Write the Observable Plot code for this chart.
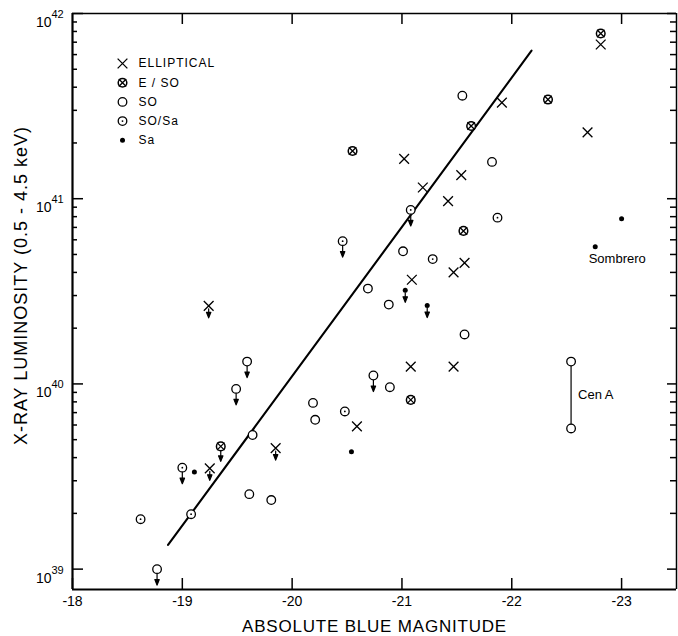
<!DOCTYPE html>
<html>
<head>
<meta charset="utf-8">
<script src="https://cdn.jsdelivr.net/npm/d3@7"></script>
<script src="https://cdn.jsdelivr.net/npm/@observablehq/plot@0.6"></script>
<style>
  html, body { margin: 0; padding: 0; background: #fff; overflow: hidden; }
</style>
</head>
<body>
<div id="chart"></div>
<script>
// ---------- data (absolute blue magnitude, X-ray luminosity erg/s) ----------
const ellMag   = [-21.91, -21.02, -21.54, -21.19, -21.42, -21.57, -21.47, -21.09, -21.08, -21.47, -20.59, -22.81, -22.69, -19.24, -19.85, -19.25];
const ellLum   = [3.3e41, 1.64e41, 1.34e41, 1.15e41, 9.7e40, 4.5e40, 4.0e40, 3.65e40, 1.24e40, 1.24e40, 5.9e39, 6.8e41, 2.28e41, 2.64e40, 4.5e39, 3.5e39];
const ellUpper = [0, 0, 0, 0, 0, 0, 0, 0, 0, 0, 0, 0, 0, 1, 1, 1];

const es0Mag   = [-21.63, -20.55, -21.56, -21.08, -22.81, -22.33, -19.35];
const es0Lum   = [2.47e41, 1.81e41, 6.7e40, 8.2e39, 7.8e41, 3.43e41, 4.6e39];
const es0Upper = [0, 0, 0, 0, 0, 0, 1];

const s0Mag    = [-21.55, -21.82, -21.01, -20.69, -20.88, -21.57, -20.74, -20.89, -20.19, -20.21, -19.64, -19.61, -19.81, -19.59, -19.49, -18.77];
const s0Lum    = [3.6e41, 1.58e41, 5.2e40, 3.27e40, 2.68e40, 1.85e40, 1.11e40, 9.6e39, 7.9e39, 6.4e39, 5.3e39, 2.54e39, 2.36e39, 1.32e40, 9.4e39, 1.0e39];
const s0Upper  = [0, 0, 0, 0, 0, 0, 1, 0, 0, 0, 0, 0, 0, 1, 1, 1];

const cenAMag  = [-22.54, -22.54];
const cenALum  = [1.32e40, 5.75e39];
const cenAName = "Cen A";

const s0saMag   = [-21.08, -21.87, -20.46, -21.28, -20.48, -19.00, -18.62, -19.08];
const s0saLum   = [8.7e40, 7.9e40, 5.9e40, 4.72e40, 7.1e39, 3.53e39, 1.86e39, 1.98e39];
const s0saUpper = [1, 0, 1, 0, 0, 1, 0, 0];

const saMag    = [-21.03, -21.23, -20.54, -19.11, -23.00, -22.76];
const saLum    = [3.2e40, 2.65e40, 4.3e39, 3.35e39, 7.8e40, 5.5e40];
const saUpper  = [1, 1, 0, 0, 0, 0];
const saNames  = ["", "", "", "", "", "Sombrero"];

const fitMag   = [-18.87, -22.18];
const fitLum   = [1.35e39, 6.3e41];

const legendLabels = ["ELLIPTICAL", "E / SO", "SO", "SO/Sa", "Sa"];
const legendTypes  = ["E", "E/S0", "S0", "S0/Sa", "Sa"];

const xTicks     = [-18, -19, -20, -21, -22, -23];
const yExponents = [39, 40, 41, 42];
const xLabel = "ABSOLUTE BLUE MAGNITUDE";
const yLabel = "X-RAY LUMINOSITY (0.5 - 4.5 keV)";

// ---------- layout ----------
const W = 678, H = 636, mL = 72, mR = 2, mT = 13, mB = 47;

// ---------- derived tables ----------
const rows = (mag, lum, up, type, names) =>
  mag.map((m, i) => ({mag: m, lum: lum[i], upper: !!(up && up[i]), type, name: names ? names[i] : ""}));

const ell  = rows(ellMag, ellLum, ellUpper, "E");
const es0  = rows(es0Mag, es0Lum, es0Upper, "E/S0");
const s0   = rows(s0Mag, s0Lum, s0Upper, "S0");
const cenA = rows(cenAMag, cenALum, null, "S0");
const s0sa = rows(s0saMag, s0saLum, s0saUpper, "S0/Sa");
const sa   = rows(saMag, saLum, saUpper, "Sa", saNames);
const fit  = fitMag.map((m, i) => ({mag: m, lum: fitLum[i]}));

const yMajor = yExponents.map(e => 10 ** e);
const yMinor = [];
for (const e of yExponents.slice(0, -1)) for (let k = 2; k <= 9; k++) yMinor.push(k * 10 ** e);
const xDomain = [-18, -23.5];
const yDomain = [10 ** 38.89, 1e42];

// tick lengths converted from pixels to data units of each scale
const decPerPx = (Math.log10(yDomain[1]) - Math.log10(yDomain[0])) / (H - mT - mB);
const magPerPx = (xDomain[0] - xDomain[1]) / (W - mL - mR);

// ---------- symbol marks ----------
const R = 4.3;
function symbolMarks(type, data, pos) {
  switch (type) {
    case "E":
      return [Plot.dot(data, {...pos, symbol: "times", r: 4.5, stroke: "black", strokeWidth: 1.3})];
    case "E/S0":
      return [
        Plot.dot(data, {...pos, r: R, fill: "white", stroke: "black", strokeWidth: 1.5}),
        Plot.dot(data, {...pos, symbol: "times", r: 3.5, stroke: "black", strokeWidth: 1.3})
      ];
    case "S0":
      return [Plot.dot(data, {...pos, r: R, fill: "white", stroke: "black", strokeWidth: 1.3})];
    case "S0/Sa":
      return [
        Plot.dot(data, {...pos, r: R, fill: "white", stroke: "black", strokeWidth: 1.3}),
        Plot.dot(data, {...pos, r: 0.9, fill: "black"})
      ];
    case "Sa":
      return [Plot.dot(data, {...pos, r: 2.5, fill: "black"})];
  }
}

const arrowShape = (start) => ({
  draw(ctx, l) {
    ctx.moveTo(0, -start);
    ctx.lineTo(0, -(l - 4));
    ctx.moveTo(-2.2, -(l - 5.5));
    ctx.lineTo(0, -l);
    ctx.lineTo(2.2, -(l - 5.5));
    ctx.closePath();
  }
});
function arrows(data, start, length) {
  return Plot.vector(data.filter(d => d.upper), {
    x: "mag", y: "lum", length, rotate: 180, anchor: "start",
    shape: arrowShape(start), stroke: "black", fill: "black", strokeWidth: 1.2
  });
}

// inward ticks as short rules
const tickStyle = {stroke: "black", strokeWidth: 1.5};
const xTicksBottom = Plot.ruleX(xTicks, {x: d => d, y1: yDomain[0], y2: yDomain[0] * 10 ** (11 * decPerPx), ...tickStyle});
const xTicksTop = Plot.ruleX(xTicks.slice(1), {x: d => d, y1: yDomain[1], y2: yDomain[1] / 10 ** (11 * decPerPx), ...tickStyle});
const yTicksLeftMajor = Plot.ruleY(yMajor, {y: d => d, x1: xDomain[0], x2: xDomain[0] - 11 * magPerPx, ...tickStyle});
const yTicksLeftMinor = Plot.ruleY(yMinor, {y: d => d, x1: xDomain[0], x2: xDomain[0] - 5 * magPerPx, ...tickStyle});
const yTicksRightMajor = Plot.ruleY(yMajor, {y: d => d, x1: xDomain[1], x2: xDomain[1] + 9 * magPerPx, ...tickStyle});
const yTicksRightMinor = Plot.ruleY(yMinor, {y: d => d, x1: xDomain[1], x2: xDomain[1] + 6 * magPerPx, ...tickStyle});

const pos = {x: "mag", y: "lum"};

const legendMarks = legendTypes.flatMap((t, i) => {
  const p = {frameAnchor: "top-left", dx: 50, dy: 50 + i * 19.2};
  return [
    ...symbolMarks(t, [{}], p),
    Plot.text([legendLabels[i]], {frameAnchor: "top-left", dx: 66, dy: 50 + i * 19.2, text: d => d,
      textAnchor: "start", lineAnchor: "middle", fontSize: 12})
  ];
});

const chart = Plot.plot({
  width: W,
  height: H,
  marginLeft: mL,
  marginRight: mR,
  marginTop: mT,
  marginBottom: mB,
  style: {fontFamily: "'Liberation Sans', Arial, sans-serif", background: "white", color: "black"},
  x: {domain: xDomain, axis: null},
  y: {type: "log", domain: yDomain, axis: null},
  marks: [
    // tick labels
    Plot.text(xTicks, {x: d => d, text: d => String(d), frameAnchor: "bottom", textAnchor: "middle", lineAnchor: "top", dy: 7, fontSize: 14}),
    Plot.text(yExponents, {y: d => 10 ** d, text: () => "10", frameAnchor: "left", textAnchor: "end", lineAnchor: "middle", dx: -21, dy: 9, fontSize: 14}),
    Plot.text(yExponents, {y: d => 10 ** d, text: d => String(d), frameAnchor: "left", textAnchor: "start", lineAnchor: "middle", dx: -21, dy: 1, fontSize: 11}),
    // axis titles
    Plot.text([xLabel], {frameAnchor: "bottom", textAnchor: "middle", lineAnchor: "middle", dy: 37, text: d => d, fontSize: 17}),
    Plot.text([yLabel], {frameAnchor: "left", textAnchor: "middle", lineAnchor: "middle", dx: -51, dy: -16, rotate: -90, text: d => d, fontSize: 18}),
    // fit line
    Plot.line(fit, {...pos, stroke: "black", strokeWidth: 2.1}),
    // Cen A range
    Plot.link([cenA], {x1: d => d[0].mag, y1: d => d[0].lum, x2: d => d[1].mag, y2: d => d[1].lum, stroke: "black", strokeWidth: 1.2}),
    // upper-limit arrows
    arrows(ell, 3, 12),
    arrows(es0, 4.5, 15),
    arrows(s0, 4.5, 16),
    arrows(s0sa, 4.5, 16),
    arrows(sa, 2.5, 12),
    // symbols
    ...symbolMarks("E", ell, pos),
    ...symbolMarks("E/S0", es0, pos),
    ...symbolMarks("S0", s0, pos),
    ...symbolMarks("S0", cenA, pos),
    ...symbolMarks("S0/Sa", s0sa, pos),
    ...symbolMarks("Sa", sa, pos),
    // annotations
    Plot.text(sa.filter(d => d.name), {...pos, text: "name", dx: 22, dy: 12, fontSize: 13}),
    Plot.text([cenAName], {x: () => cenAMag[0], y: () => Math.sqrt(cenALum[0] * cenALum[1]), text: d => d, textAnchor: "start", dx: 7, fontSize: 13}),
    // legend
    ...legendMarks,
    // frame: thin top/right, heavier left/bottom
    Plot.ruleY([yDomain[1]], {stroke: "black", strokeWidth: 1.5}),
    Plot.ruleX([xDomain[1]], {stroke: "black", strokeWidth: 1.5}),
    Plot.ruleX([xDomain[0]], {stroke: "black", strokeWidth: 2.2}),
    Plot.ruleY([yDomain[0]], {stroke: "black", strokeWidth: 2.2}),
    // inward ticks
    xTicksBottom, xTicksTop,
    yTicksLeftMajor, yTicksLeftMinor,
    yTicksRightMajor, yTicksRightMinor
  ]
});

// letter spacing to mimic the wide lettering of the original
const spacing = new Map([[xLabel, "0.8px"], [yLabel, "1px"], ...legendLabels.map(l => [l, "1px"])]);
d3.select(chart).selectAll("text").each(function () {
  const s = spacing.get(this.textContent);
  if (s) this.setAttribute("letter-spacing", s);
});
document.getElementById("chart").append(chart);
</script>
</body>
</html>
